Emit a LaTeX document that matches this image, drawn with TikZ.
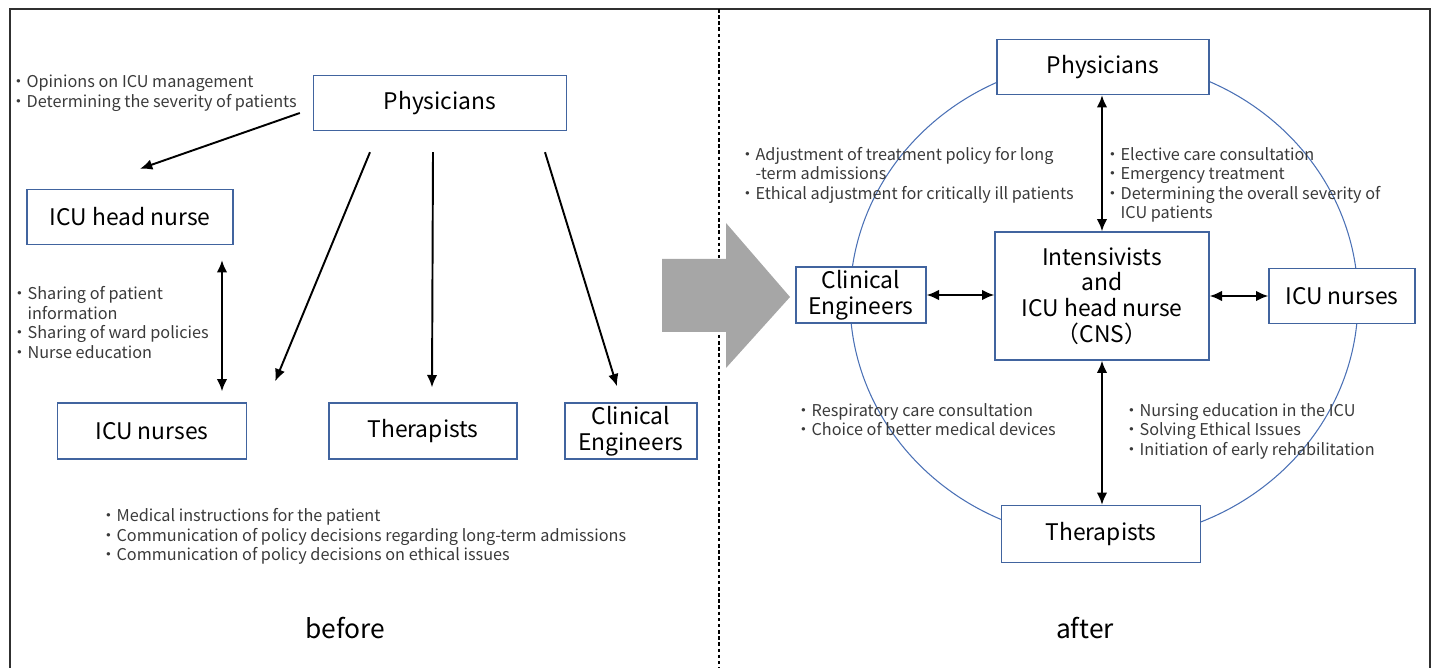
\documentclass[tikz,border=0pt]{standalone}
\usepackage{fontspec}
\setmainfont{Noto Sans CJK JP}
\usetikzlibrary{arrows.meta}

\definecolor{boxblue}{HTML}{41649F}
\definecolor{ringblue}{HTML}{4A70B5}
\definecolor{notegray}{HTML}{3A3A3A}
\definecolor{bigarrow}{HTML}{A6A6A6}
\definecolor{framegray}{HTML}{303030}

\tikzset{
  unit/.style={draw=boxblue, line width=0.8pt, fill=white, align=center, inner sep=0pt,
    font=\fontsize{13}{14.7}\selectfont},
  note/.style={anchor=north west, inner sep=0pt, align=left, text=notegray,
    font=\fontsize{9.25}{11.1}\selectfont},
  link/.style={-{Latex[length=7pt,width=6pt]}, line width=1.1pt},
  both/.style={{Latex[length=7pt,width=6pt]}-{Latex[length=7pt,width=6pt]}, line width=1.1pt},
  caption/.style={font=\fontsize{15}{18}\selectfont}
}

\begin{document}
\begin{tikzpicture}[x=0.02cm, y=-0.02cm]
\useasboundingbox (0,0) rectangle (1432,668);

\draw[framegray, line width=1.2pt] (10,668) -- (10,9) -- (1430,9) -- (1430,668);
\draw[dash pattern=on 2pt off 1.5pt, line width=0.6pt] (719,9) -- (719,668);

% before
\node[unit, minimum width=5.06cm, minimum height=1.1cm] (phys1) at (440,103) {Physicians};
\node[unit, minimum width=4.12cm, minimum height=1.1cm] (head1) at (130,217) {ICU head nurse};
\node[unit, minimum width=3.78cm, minimum height=1.12cm] (nurse1) at (152,431) {ICU nurses};
\node[unit, minimum width=3.76cm, minimum height=1.12cm] (ther1) at (423,431) {Therapists};
\node[unit, minimum width=2.64cm, minimum height=1.12cm] (ce1) at (631,431) {Clinical\\Engineers};

\draw[link] ([shift={(-13,10)}]phys1.west) -- ([shift={(10,-20)}]head1.north);
\draw[link] ([shift={(-70,21)}]phys1.south) -- ([shift={(28,-21)}]nurse1.north east);
\draw[link] ([shift={(-7,21)}]phys1.south) -- ([shift={(9,-15)}]ther1.north);
\draw[link] ([shift={(105,21)}]phys1.south) -- ([shift={(-14,-16)}]ce1.north);
\draw[both] ([shift={(92,15)}]head1.south) -- ([shift={(70,-11)}]nurse1.north);

\node[note] (opinions) at (10,75) {・Opinions on ICU management\\・Determining the severity of patients};
\node[note] (sharing) at (11,286) {・Sharing of patient\\\phantom{・}information\\・Sharing of ward policies\\・Nurse education};
\node[note] (orders) at (100,508) {・Medical instructions for the patient\\・Communication of policy decisions regarding long-term admissions\\・Communication of policy decisions on ethical issues};

\node[caption] (before) at (345,628) {before};

\fill[bigarrow] (662,259) -- (726,259) -- (726,223) -- (790,297) -- (726,368) -- (726,332) -- (662,332) -- cycle;

% after
\draw[ringblue, line width=0.6pt] (1104,300) ellipse [x radius=254, y radius=240];

\node[unit, minimum width=4.24cm, minimum height=1.1cm] (phys2) at (1103,67) {Physicians};
\node[unit, minimum width=4.28cm, minimum height=2.56cm] (cns) at (1102,296) {Intensivists\\and\\ICU head nurse\\（CNS）};
\node[unit, minimum width=2.6cm, minimum height=1.12cm] (ce2) at (861,295) {Clinical\\Engineers};
\node[unit, minimum width=2.92cm, minimum height=1.1cm] (nurse2) at (1342,296) {ICU nurses};
\node[unit, minimum width=3.98cm, minimum height=1.14cm] (ther2) at (1101,534) {Therapists};

\draw[both] (cns.north) -- (cns.north |- phys2.south);
\draw[both] (ce2.east) -- (ce2.east -| cns.west);
\draw[both] (cns.east) -- (cns.east -| nurse2.west);
\draw[both] (cns.south) -- (cns.south |- ther2.north);

\node[note] (policy) at (739,147) {・Adjustment of treatment policy for long\\\phantom{・}-term admissions\\・Ethical adjustment for critically ill patients};
\node[note] (consult) at (1104,147) {・Elective care consultation\\・Emergency treatment\\・Determining the overall severity of\\\phantom{・}ICU patients};
\node[note] (devices) at (795,403) {・Respiratory care consultation\\・Choice of better medical devices};
\node[note] (rehab) at (1123,403) {・Nursing education in the ICU\\・Solving Ethical Issues\\・Initiation of early rehabilitation};

\node[caption] (after) at (1085,628) {after};
\end{tikzpicture}
\end{document}
